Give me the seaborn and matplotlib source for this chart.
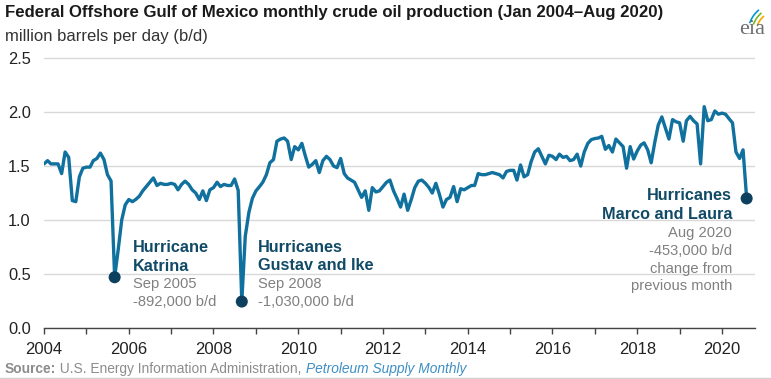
import numpy as np
import pandas as pd
import seaborn as sns
import matplotlib.pyplot as plt
import matplotlib.dates as mdates
from matplotlib.ticker import FormatStrFormatter, FuncFormatter
from matplotlib.patches import Arc
from matplotlib.lines import Line2D

# Federal Offshore Gulf of Mexico crude oil production, million b/d
prod_2004 = [1.52, 1.55, 1.52, 1.52, 1.52, 1.43, 1.63, 1.58, 1.18, 1.17, 1.40, 1.48]
prod_2005 = [1.49, 1.49, 1.55, 1.57, 1.62, 1.56, 1.42, 1.362, 0.470, 0.72, 1.00, 1.14]
prod_2006 = [1.19, 1.17, 1.19, 1.22, 1.27, 1.31, 1.35, 1.39, 1.32, 1.34, 1.33, 1.33]
prod_2007 = [1.34, 1.33, 1.28, 1.33, 1.36, 1.33, 1.28, 1.25, 1.19, 1.27, 1.18, 1.28]
prod_2008 = [1.30, 1.35, 1.31, 1.33, 1.32, 1.32, 1.38, 1.275, 0.245, 0.85, 1.07, 1.20]
prod_2009 = [1.27, 1.31, 1.35, 1.42, 1.53, 1.56, 1.73, 1.75, 1.76, 1.73, 1.56, 1.68]
prod_2010 = [1.65, 1.71, 1.60, 1.49, 1.515, 1.55, 1.44, 1.55, 1.59, 1.56, 1.50, 1.485]
prod_2011 = [1.57, 1.43, 1.39, 1.37, 1.35, 1.28, 1.21, 1.27, 1.09, 1.30, 1.26, 1.27]
prod_2012 = [1.31, 1.35, 1.37, 1.27, 1.20, 1.12, 1.24, 1.09, 1.19, 1.30, 1.36, 1.37]
prod_2013 = [1.34, 1.30, 1.25, 1.34, 1.24, 1.12, 1.19, 1.21, 1.31, 1.17, 1.29, 1.28]
prod_2014 = [1.30, 1.32, 1.32, 1.43, 1.42, 1.42, 1.43, 1.44, 1.43, 1.42, 1.39, 1.45]
prod_2015 = [1.46, 1.46, 1.37, 1.51, 1.40, 1.42, 1.54, 1.63, 1.66, 1.59, 1.52, 1.60]
prod_2016 = [1.59, 1.56, 1.61, 1.58, 1.59, 1.55, 1.56, 1.61, 1.50, 1.63, 1.71, 1.745]
prod_2017 = [1.755, 1.76, 1.775, 1.655, 1.69, 1.63, 1.75, 1.715, 1.68, 1.48, 1.68, 1.565]
prod_2018 = [1.64, 1.695, 1.715, 1.65, 1.53, 1.72, 1.88, 1.955, 1.85, 1.75, 1.93, 1.91]
prod_2019 = [1.90, 1.73, 1.92, 1.96, 1.92, 1.89, 1.52, 2.05, 1.92, 1.93, 2.01, 1.98]
prod_2020 = [1.99, 1.98, 1.94, 1.90, 1.63, 1.57, 1.65, 1.20]

event_months = ['2005-09-01', '2008-09-01', '2020-08-01']
y_ticks = [0.0, 0.5, 1.0, 1.5, 2.0, 2.5]

title = 'Federal Offshore Gulf of Mexico monthly crude oil production (Jan 2004\u2013Aug 2020)'
subtitle = 'million barrels per day (b/d)'

W, H = 771, 379
line_col = '#10709e'
dot_col = '#0d3f5e'
note_col = '#114a66'
gray = '#808080'

sns.set_style('white')
plt.rcParams['font.family'] = ['Liberation Sans', 'DejaVu Sans']

values = (prod_2004 + prod_2005 + prod_2006 + prod_2007 + prod_2008 + prod_2009 +
          prod_2010 + prod_2011 + prod_2012 + prod_2013 + prod_2014 + prod_2015 +
          prod_2016 + prod_2017 + prod_2018 + prod_2019 + prod_2020)
df = pd.DataFrame({'date': pd.date_range('2004-01-01', periods=len(values), freq='MS'),
                   'prod': values})
events = df[df['date'].isin(pd.to_datetime(event_months))]


def fx(x):
    return x / W


def fy(y):
    return 1 - y / H


fig = plt.figure(figsize=(W / 100, H / 100), dpi=100)
ax = fig.add_axes([fx(44), fy(328), (755 - 44) / W, (328 - 57) / H])

sns.lineplot(data=df, x='date', y='prod', ax=ax, color=line_col, lw=2.4, zorder=3)
sns.scatterplot(data=events, x='date', y='prod', ax=ax, color=dot_col, s=75,
                edgecolor='none', zorder=5)

ax.set_xlim(pd.Timestamp('2004-01-01'), pd.Timestamp('2020-10-12'))
ax.set_ylim(0, 2.51)
ax.set_yticks(y_ticks)
ax.yaxis.set_major_formatter(FormatStrFormatter('%.1f'))
ax.yaxis.grid(True, color='#d9d9d9', lw=1)
ax.xaxis.grid(False)
ax.set_xlabel('')
ax.set_ylabel('')
for s in ['top', 'right', 'left']:
    ax.spines[s].set_visible(False)
ax.spines['bottom'].set_color('#444444')
ax.spines['bottom'].set_linewidth(1)

ax.xaxis.set_major_locator(mdates.YearLocator(1))
ax.xaxis.set_major_formatter(FuncFormatter(
    lambda v, p: str(mdates.num2date(v).year) if mdates.num2date(v).year % 2 == 0 else ''))
ax.tick_params(axis='x', direction='out', length=4, width=1, color='#444444',
               pad=6, labelsize=12, labelcolor='#222222', bottom=True)
ax.tick_params(axis='y', length=0, pad=(44 - 8) / 1.389, labelsize=11.8, labelcolor='#222222')
for lab in ax.get_yticklabels():
    lab.set_ha('left')

# titles
fig.text(fx(5), fy(12), title, fontsize=12.1, weight='bold', color='#1a1a1a', va='center')
fig.text(fx(5), fy(36), subtitle, fontsize=12, color='#333333', va='center')

# annotations
def note(x, lines, ha='left'):
    for txt, y, bold in lines:
        if bold:
            fig.text(fx(x), fy(y), txt, fontsize=11.7, weight='bold', color=note_col,
                     ha=ha, va='baseline')
        else:
            fig.text(fx(x), fy(y), txt, fontsize=10.6, color=gray, ha=ha, va='baseline')


note(133, [('Hurricane', 251.7, True), ('Katrina', 270.7, True),
           ('Sep 2005', 288.3, False), ('-892,000 b/d', 306, False)])
note(258, [('Hurricanes', 251.7, True), ('Gustav and Ike', 270.5, True),
           ('Sep 2008', 288.3, False), ('-1,030,000 b/d', 306, False)])
note(732, [('Hurricanes', 200, True), ('Marco and Laura', 219, True),
           ('Aug 2020', 237, False), ('-453,000 b/d', 255, False),
           ('change from', 272.5, False), ('previous month', 290, False)], ha='right')

# source line
src1 = fig.text(fx(5), fy(373), 'Source:', fontsize=9.9, weight='bold', color='#8c8c8c',
                va='baseline')
src2 = ax.annotate(' U.S. Energy Information Administration, ', xy=(1, 0), xycoords=src1,
                   fontsize=9.9, color='#8c8c8c', va='bottom', annotation_clip=False)
ax.annotate('Petroleum Supply Monthly', xy=(1, 0), xycoords=src2, fontsize=9.9,
            style='italic', color='#3d8fc5', va='bottom', annotation_clip=False)
fig.add_artist(Line2D([0, 1], [fy(377.5), fy(377.5)], color='#d0d0d0', lw=1))

# eia logo
fig.text(fx(752), fy(30), 'eia', fontsize=16, family='Liberation Serif', color='#6d6e71',
         ha='center', va='center')
for r, c in zip([22, 26, 30], ['#f5a800', '#76b82a', '#0096d7']):
    fig.add_artist(Arc((fx(778), fy(33)), 2 * r / W, 2 * r / H, theta1=112, theta2=145,
                       transform=fig.transFigure, color=c, lw=1.2))

fig.savefig('out.png', dpi=100)
